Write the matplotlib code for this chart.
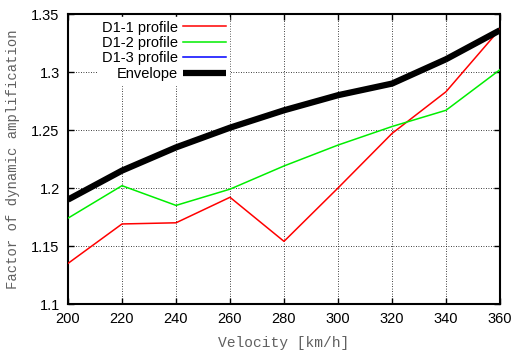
import matplotlib
matplotlib.use('Agg')
import matplotlib.pyplot as plt

# velocities (km/h)
velocity = [200, 220, 240, 260, 280, 300, 320, 340, 360]
# factor of dynamic amplification per profile
d1_1 = [1.135, 1.169, 1.170, 1.192, 1.154, 1.200, 1.247, 1.283, 1.337]
d1_2 = [1.174, 1.202, 1.185, 1.199, 1.219, 1.237, 1.253, 1.267, 1.302]
d1_3 = [1.190, 1.215, 1.235, 1.252, 1.267, 1.280, 1.290, 1.311, 1.336]
envelope = [1.190, 1.215, 1.235, 1.252, 1.267, 1.280, 1.290, 1.311, 1.336]

xticks = [200, 220, 240, 260, 280, 300, 320, 340, 360]
yticks = [1.1, 1.15, 1.2, 1.25, 1.3, 1.35]
ytick_labels = ['1.1', '1.15', '1.2', '1.25', '1.3', '1.35']

plt.rcParams['font.family'] = ['Liberation Sans', 'DejaVu Sans']

fig = plt.figure(figsize=(5.17, 3.58), dpi=100)
ax = fig.add_axes([68 / 517, 1 - 304 / 358, 432 / 517, 290 / 358])

ax.plot(velocity, d1_1, color='#ff0000', lw=1.1, label='D1-1 profile', zorder=3)
ax.plot(velocity, d1_2, color='#00ee00', lw=1.1, label='D1-2 profile', zorder=3)
ax.plot(velocity, d1_3, color='#0000ff', lw=1.1, label='D1-3 profile', zorder=2)
ax.plot(velocity, envelope, color='black', lw=4.5, label='Envelope', zorder=4,
        solid_capstyle='butt')

ax.set_xlim(200, 360)
ax.set_ylim(1.1, 1.35)
ax.set_xticks(xticks)
ax.set_yticks(yticks)
ax.set_yticklabels(ytick_labels)
ax.tick_params(direction='in', length=4, width=1, top=True, right=True,
               labelsize=10.5, pad=6)
ax.grid(True, color='black', linestyle=(0, (1, 2)), lw=0.6)
for s in ax.spines.values():
    s.set_linewidth(1.5)

ax.set_xlabel('Velocity [km/h]', family='Liberation Mono', fontsize=10.5,
              color='#606060', labelpad=7)
ax.set_ylabel('Factor of dynamic amplification', family='Liberation Mono',
              fontsize=10, color='#606060', labelpad=8)

# gnuplot style key: label on the left, right aligned, sample on the right
leg = ax.legend(loc='upper right', bbox_to_anchor=(0.377, 0.995),
                markerfirst=False, frameon=True,
                fontsize=10.5, handlelength=2.9, handletextpad=0.4,
                labelspacing=0.1, borderpad=0.25, borderaxespad=0.1,
                fancybox=False)
leg.get_frame().set_edgecolor('white')
leg.get_frame().set_facecolor('white')
leg.get_frame().set_alpha(1)
leg.set_zorder(5)

fig.savefig('out.png', dpi=100)
